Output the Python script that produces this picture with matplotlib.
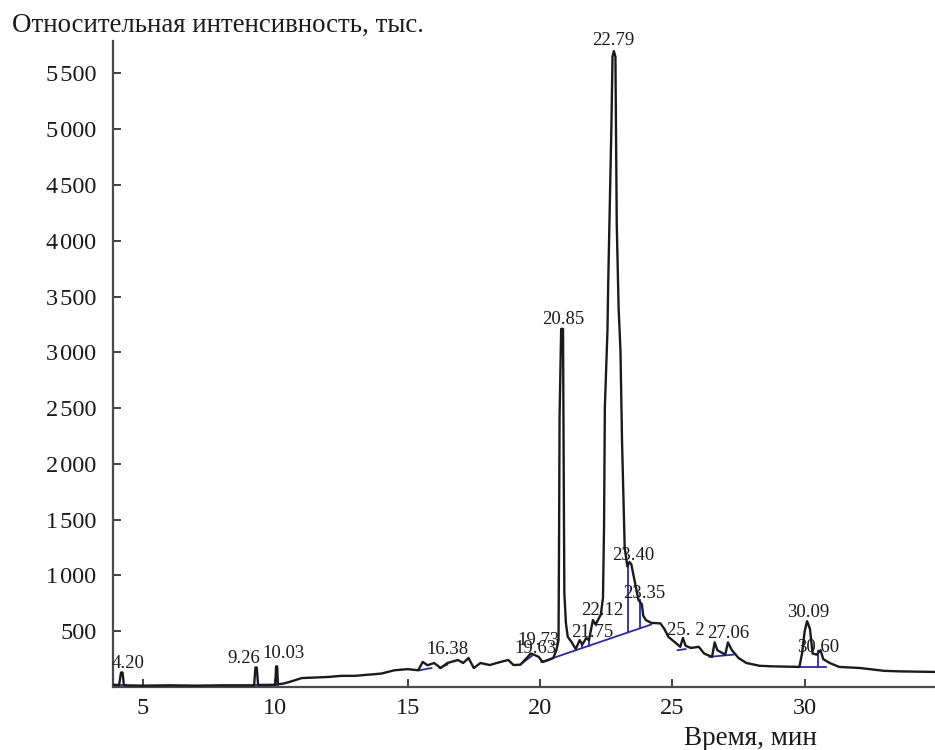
import numpy as np
import matplotlib
matplotlib.use('Agg')
import matplotlib.pyplot as plt

plt.rcParams['font.family'] = ['Liberation Serif', 'DejaVu Serif']

# Chromatogram trace (time, min / intensity, thousands)
time = [3.87, 4.10, 4.17, 4.23, 4.28, 5.0, 6.0, 7.0, 8.0, 9.20, 9.25, 9.30, 9.35,
        10.0, 10.03, 10.07, 10.10, 10.3, 10.6, 11.0, 11.5, 12.0, 12.5, 13.0, 13.5,
        14.0, 14.5, 15.0, 15.4, 15.57, 15.75, 16.0, 16.25, 16.5, 16.9, 17.1, 17.3,
        17.5, 17.75, 18.1, 18.5, 18.8, 19.0, 19.26, 19.5, 19.65, 19.77, 19.95, 20.1,
        20.3, 20.5, 20.62, 20.70, 20.72, 20.74, 20.80, 20.87, 20.92, 20.98, 21.05,
        21.2, 21.35, 21.5, 21.6, 21.75, 21.85, 22.0, 22.1, 22.3, 22.38, 22.42, 22.45,
        22.55, 22.58, 22.65, 22.70, 22.74, 22.79, 22.85, 22.90, 22.97, 23.04, 23.1,
        23.2, 23.3, 23.38, 23.45, 23.55, 23.72, 23.85, 23.9, 24.0, 24.2, 24.55, 24.7,
        24.85, 25.1, 25.3, 25.4, 25.5, 25.7, 26.0, 26.1, 26.2, 26.5, 26.6, 26.7, 27.0,
        27.1, 27.25, 27.5, 27.8, 28.3, 28.8, 29.8, 29.9, 30.0, 30.09, 30.2, 30.3,
        30.45, 30.6, 30.7, 30.95, 31.3, 32.1, 33.0, 33.6, 34.9]
intensity = [20, 18, 130, 130, 15, 12, 15, 12, 15, 15, 175, 175, 18,
             20, 185, 185, 25, 30, 50, 80, 85, 90, 100, 100, 110,
             120, 150, 160, 150, 225, 195, 215, 170, 215, 242, 215, 260,
             170, 215, 197, 224, 242, 197, 200, 260, 300, 290, 270, 224,
             240, 260, 330, 420, 1290, 2420, 3210, 3210, 840, 570, 450,
             400, 340, 420, 380, 440, 420, 600, 560, 650, 800, 1430, 2500,
             3200, 3650, 4450, 5050, 5650, 5700, 5650, 4150, 3400, 3020, 2200,
             1250, 1080, 1120, 1100, 980, 780, 740, 640, 600, 575, 570, 520,
             450, 400, 360, 440, 370, 350, 360, 330, 300, 270, 400, 330, 290,
             400, 330, 260, 215, 190, 185, 180, 300, 500, 590, 520, 300,
             290, 330, 250, 215, 180, 170, 145, 140, 135]

# Integration baselines
base_t0 = [4.05, 9.20, 9.95, 15.45, 16.20, 19.25, 20.05, 25.20, 26.40, 29.85]
base_i0 = [15, 15, 20, 150, 170, 200, 224, 330, 270, 180]
base_t1 = [4.35, 9.40, 10.10, 15.90, 16.50, 19.70, 24.20, 25.50, 27.30, 30.80]
base_i1 = [15, 15, 20, 170, 200, 280, 560, 340, 290, 180]

# Peak split (drop) lines
drop_t = [21.35, 21.60, 21.85, 23.34, 23.78, 30.50]
drop_top = [340, 380, 430, 1080, 780, 300]

# Peak labels
peak_names = ['4.20', '9.26', '10.03', '16.38', '19.63', '19.73', '20.85', '21.75',
              '22.12', '22.79', '23.40', '23.35', '25. 2', '27.06', '30.09', '30.60']
label_t = [4.43, 8.81, 10.32, 16.5, 19.83, 19.95, 20.89, 21.98,
           22.36, 22.78, 23.53, 23.94, 25.5, 27.12, 30.13, 30.5]
label_i = [170, 215, 260, 296, 305, 376, 3253, 448,
           645, 5753, 1138, 797, 466, 439, 627, 314]

yticks = [500, 1000, 1500, 2000, 2500, 3000, 3500, 4000, 4500, 5000, 5500]
xticks = [5, 10, 15, 20, 25, 30]

fig = plt.figure(figsize=(9.35, 7.5), dpi=100)
ax = fig.add_axes([0.1209, 0.084, 0.879, 0.8613])

ax.plot(time, intensity, color='#1a1a1a', lw=1.7, zorder=3)

blue = '#2a2aa8'
for t0, i0, t1, i1 in zip(base_t0, base_i0, base_t1, base_i1):
    ax.plot([t0, t1], [i0, i1], color=blue, lw=1.3, zorder=2)

# bottom of each drop line sits on its baseline segment
for t, top in zip(drop_t, drop_top):
    bottom = None
    for t0, i0, t1, i1 in zip(base_t0, base_i0, base_t1, base_i1):
        if t0 <= t <= t1:
            bottom = np.interp(t, [t0, t1], [i0, i1])
    ax.plot([t, t], [bottom, top], color=blue, lw=1.3, zorder=2)

for name, t, i in zip(peak_names, label_t, label_i):
    ax.text(t, i, name, ha='center', va='baseline', fontsize=13.5, color='#1a1a1a', zorder=4)

ax.set_xlim(3.87, 34.92)
ax.set_ylim(0, 5790)
ax.set_xticks(xticks)
ax.set_xticklabels([str(v) for v in xticks])
ax.set_yticks(yticks)
ax.set_yticklabels([f'{v // 1000}\u200a{v % 1000:03d}' if v >= 1000 else str(v) for v in yticks])

for s in ['top', 'right']:
    ax.spines[s].set_visible(False)
for s in ['left', 'bottom']:
    ax.spines[s].set_color('#4a4a4a')
    ax.spines[s].set_linewidth(1.6)

ax.tick_params(axis='both', direction='in', length=6, width=1.3, color='#333333',
               labelsize=17.5, labelcolor='#1a1a1a')
ax.tick_params(axis='x', pad=8)
ax.tick_params(axis='y', pad=12)

fig.text(12 / 935, 1 - 32 / 750, 'Относительная интенсивность, тыс.', fontsize=19.4,
         ha='left', va='baseline', color='#1a1a1a')
fig.text(750 / 935, 1 - 745 / 750, 'Время, мин', fontsize=19.5,
         ha='center', va='baseline', color='#1a1a1a')

fig.savefig('out.png', dpi=100)
